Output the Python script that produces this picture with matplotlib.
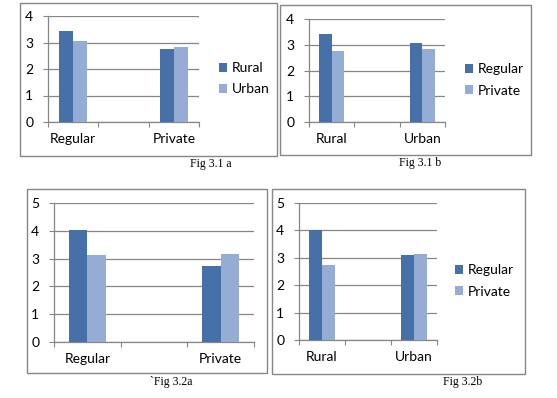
import numpy as np
import matplotlib
matplotlib.use("Agg")
import matplotlib.pyplot as plt
from matplotlib.patches import Rectangle

# ---- data ----
cats_31a = ["Regular", "", "Private"]
names_31a = ["Rural", "Urban"]
rural_31a = [3.43, None, 2.75]
urban_31a = [3.06, None, 2.83]

cats_31b = ["Rural", "", "Urban"]
names_31b = ["Regular", "Private"]
regular_31b = [3.43, None, 3.06]
private_31b = [2.75, None, 2.83]

cats_32a = ["Regular", "", "Private"]
names_32a = ["Rural", "Urban"]
rural_32a = [4.02, None, 2.72]
urban_32a = [3.12, None, 3.15]

cats_32b = ["Rural", "", "Urban"]
names_32b = ["Regular", "Private"]
regular_32b = [4.02, None, 3.12]
private_32b = [2.72, None, 3.15]

captions = ["Fig 3.1 a", "Fig 3.1 b", "`Fig 3.2a", "Fig 3.2b"]

# ---- style ----
W, H = 557, 398
DARK = "#4571A8"
LIGHT = "#95ADD4"
GRAY = "#868686"
FONT = "Lato"

fig = plt.figure(figsize=(W / 100, H / 100), dpi=100)
fig.patch.set_facecolor("white")


def frac(x0, y0, x1, y1):
    return [x0 / W, 1 - y1 / H, (x1 - x0) / W, (y1 - y0) / H]


def box(x0, y0, x1, y1):
    fig.patches.append(Rectangle((x0 / W, 1 - y1 / H), (x1 - x0) / W, (y1 - y0) / H,
                                 transform=fig.transFigure, fill=False,
                                 edgecolor=GRAY, lw=1.0))


def panel(rect, cats, series, names, ymax, legend_at=None):
    ax = fig.add_axes(frac(*rect))
    n = len(cats)
    centers = np.arange(n) + 0.5
    w = 0.28
    for i, (vals, color, name) in enumerate(zip(series, [DARK, LIGHT], names)):
        xs = [c + (i - 0.5) * w for c, v in zip(centers, vals) if v is not None]
        vs = [v for v in vals if v is not None]
        ax.bar(xs, vs, width=w, color=color, label=name, zorder=3, linewidth=0)
    ax.set_xlim(0, n)
    ax.set_ylim(0, ymax)
    ax.set_yticks(range(ymax + 1))
    ax.set_yticklabels([str(v) for v in range(ymax + 1)], fontsize=10, family=FONT)
    ax.yaxis.grid(True, color=GRAY, lw=0.9, zorder=0)
    ax.set_axisbelow(True)
    ax.set_xticks(range(n + 1))
    ax.set_xticklabels([""] * (n + 1))
    ax.set_xticks(centers, minor=True)
    ax.set_xticklabels(cats, minor=True, fontsize=10, family=FONT)
    ax.tick_params(axis="x", which="major", length=3.5, color=GRAY, direction="out")
    ax.tick_params(axis="x", which="minor", length=0, pad=8)
    ax.tick_params(axis="y", length=3.5, color=GRAY, pad=7)
    for s in ["top", "right"]:
        ax.spines[s].set_visible(False)
    for s in ["left", "bottom"]:
        ax.spines[s].set_color(GRAY)
        ax.spines[s].set_linewidth(0.9)
    if legend_at is not None:
        lx, ly = legend_at
        ax.legend(loc="center left", bbox_to_anchor=(lx / W, 1 - ly / H),
                  bbox_transform=fig.transFigure, frameon=False,
                  handlelength=0.6, handleheight=0.6, handletextpad=0.3,
                  labelspacing=0.65, borderpad=0, borderaxespad=0,
                  prop={"family": FONT, "size": 10})
    return ax


# frames
box(20, 3, 277, 156)
box(280, 5, 531, 155)
box(27, 189, 267, 373)
box(272, 189, 525, 374)

panel((48, 16, 199, 122), cats_31a, [rural_31a, urban_31a], names_31a, 4, (219, 78.5))
panel((309, 19, 445, 122), cats_31b, [regular_31b, private_31b], names_31b, 4, (465, 80))
panel((54, 203, 254, 342), cats_32a, [rural_32a, urban_32a], names_32a, 5, None)
panel((299, 203, 437, 340), cats_32b, [regular_32b, private_32b], names_32b, 5, (455, 281))

for txt, (cx, cy) in zip(captions, [(211, 164), (420, 163), (171, 382), (463, 382)]):
    fig.text(cx / W, 1 - cy / H, txt, ha="center", va="center",
             family="Liberation Serif", fontsize=8.5)

fig.savefig("out.png", dpi=100, facecolor="white")
